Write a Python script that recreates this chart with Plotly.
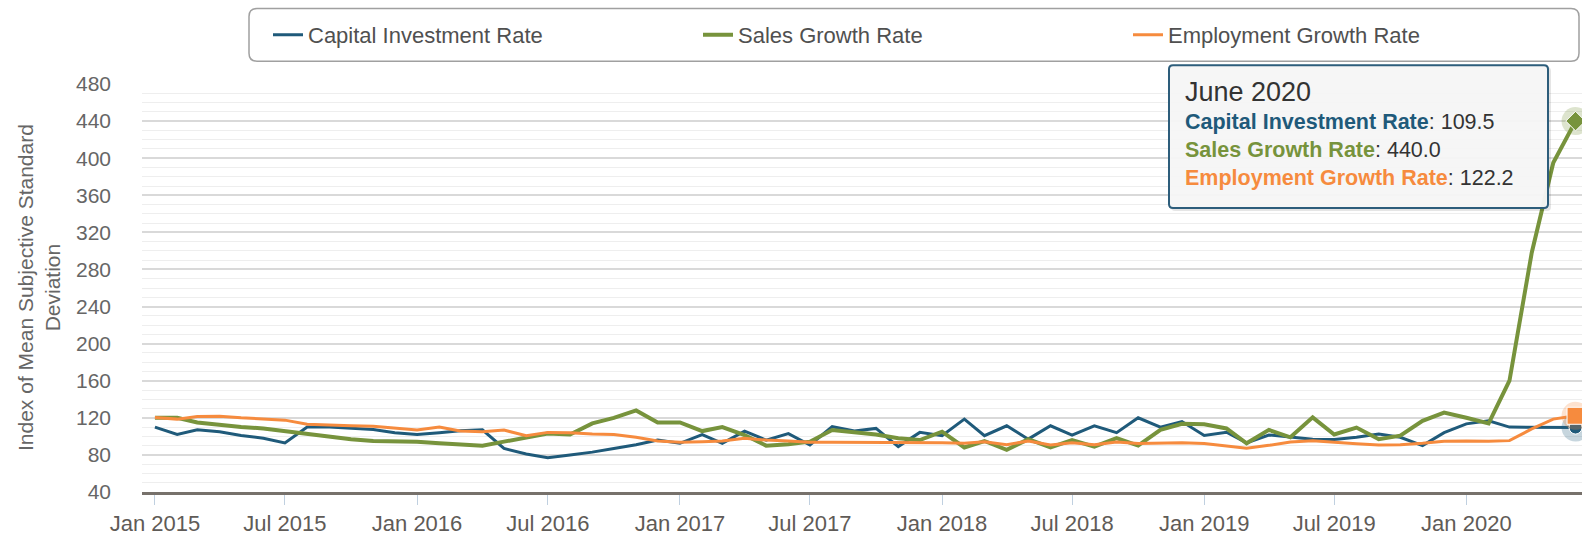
import pandas as pd
import plotly.graph_objects as go

# ---------------- data ----------------
months = [d.strftime("%Y-%m-%d") for d in pd.date_range("2015-01-01", "2020-06-01", freq="MS")]

capital_investment = [
    110, 102, 107, 105, 101, 98, 93, 110, 110, 109, 107.5, 104,
    102, 104, 106, 107, 87, 81, 77, 80, 83, 87, 91, 96,
    92.5, 102, 92.5, 105.7, 96, 103, 90.7, 110.4, 105.7, 108.6, 89, 104.3,
    100.7, 118.6, 100.7, 111.4, 97, 111.4, 101.4, 111.4, 104, 120, 110, 116,
    101, 104.5, 93, 101.5, 99, 97, 96.5, 99, 102.5, 99, 90, 104,
    113.5, 116.8, 110, 110, 110, 109.5,
]
sales_growth = [
    120, 120, 115, 112, 110, 108.6, 105.7, 102, 99.6, 97, 95, 95,
    94.3, 92.5, 91.8, 90, 94.3, 98.6, 103, 102, 114, 120, 128, 115,
    115, 105.7, 110, 101.4, 90, 91.4, 94.3, 106.8, 104, 102, 98, 96,
    105, 88, 95, 85.4, 97, 88, 96, 89, 98, 90, 107, 113.5,
    113, 108.5, 92.5, 107, 99, 120.5, 102, 109.5, 97, 100.7, 116.8, 125.7,
    120, 114, 160, 298, 395, 440.0,
]
employment_growth = [
    120.4, 118.6, 121.4, 121.8, 120, 119, 117.5, 113, 112, 111.4, 111, 108.6,
    106.8, 110, 105.7, 105, 106.8, 100.7, 104.3, 104, 102.5, 102, 99, 95,
    93.6, 94.3, 95, 98, 96, 95, 93.6, 93.6, 93.6, 93.6, 93.2, 93.2,
    93.2, 92.5, 94.3, 91, 95, 90.7, 93.2, 91, 94, 92.3, 93, 93,
    92.3, 90, 87.3, 90.3, 94, 95.4, 93.6, 92, 90.7, 91, 92.5, 94.6,
    95, 94.6, 95.4, 108, 118.6, 122.2,
]

series_names = ["Capital Investment Rate", "Sales Growth Rate", "Employment Growth Rate"]
series_values = [capital_investment, sales_growth, employment_growth]
series_colors = ["#1f5a7a", "#77933c", "#f68b3e"]
series_widths = [3, 4, 3]
hover_symbols = ["circle", "diamond", "square"]
hover_sizes = [13, 15, 17]

tooltip_title = "June 2020"
y_title = "Index of Mean Subjective Standard<br>Deviation"

# ---------------- layout geometry (pixels) ----------------
W, H = 1582, 536
L, R, T, B = 142, 1582, 84, 495
PW, PH = R - L, B - T


def px(x):
    return (x - L) / PW


def py(y):
    return (B - y) / PH


def rounded_rect(x0, y0, x1, y1, r):
    pts = [
        f"M{px(x0 + r)},{py(y0)}", f"L{px(x1 - r)},{py(y0)}", f"Q{px(x1)},{py(y0)} {px(x1)},{py(y0 + r)}",
        f"L{px(x1)},{py(y1 - r)}", f"Q{px(x1)},{py(y1)} {px(x1 - r)},{py(y1)}",
        f"L{px(x0 + r)},{py(y1)}", f"Q{px(x0)},{py(y1)} {px(x0)},{py(y1 - r)}",
        f"L{px(x0)},{py(y0 + r)}", f"Q{px(x0)},{py(y0)} {px(x0 + r)},{py(y0)}", "Z",
    ]
    return " ".join(pts)


FONT = "Arial, 'Liberation Sans', sans-serif"

fig = go.Figure()

for name, vals, col, lw in zip(series_names, series_values, series_colors, series_widths):
    fig.add_trace(go.Scatter(
        x=months, y=vals, mode="lines", name=name,
        line=dict(color=col, width=lw), hoverinfo="skip",
    ))

# hover-state markers on the last point
for name, vals, col, sym, sz in zip(series_names, series_values, series_colors, hover_symbols, hover_sizes):
    fig.add_trace(go.Scatter(
        x=[months[-1]], y=[vals[-1]], mode="markers", showlegend=False,
        marker=dict(size=28, color=col, opacity=0.25, line=dict(width=0)),
        cliponaxis=False, hoverinfo="skip",
    ))
    fig.add_trace(go.Scatter(
        x=[months[-1]], y=[vals[-1]], mode="markers", showlegend=False,
        marker=dict(size=sz, color=col, symbol=sym, line=dict(width=1, color="white")),
        cliponaxis=False, hoverinfo="skip",
    ))

shapes = [
    # legend box
    dict(type="path", xref="paper", yref="paper", path=rounded_rect(249, 8, 1579, 61, 8),
         line=dict(color="#a0a0a0", width=1.5), fillcolor="white", layer="below"),
    # tooltip shadow
    dict(type="path", xref="paper", yref="paper", path=rounded_rect(1171, 67, 1551, 212, 4),
         line=dict(width=0), fillcolor="rgba(0,0,0,0.10)", layer="above"),
    # tooltip box
    dict(type="path", xref="paper", yref="paper", path=rounded_rect(1169, 65, 1548, 209, 4),
         line=dict(color="#2d5d7b", width=2), fillcolor="rgba(246,246,246,0.97)", layer="above"),
]

annotations = [
    dict(text=y_title, x=px(39), y=0.5, xref="paper", yref="paper", textangle=-90,
         showarrow=False, xanchor="center", yanchor="middle", align="center",
         font=dict(family=FONT, size=21, color="#666666")),
    dict(text=tooltip_title, x=px(1183), y=py(92), xref="paper", yref="paper",
         showarrow=False, xanchor="left", yanchor="middle", align="left",
         font=dict(family=FONT, size=27, color="#333333")),
]
row_y = [122, 150, 179]
for name, vals, col, yy in zip(series_names, series_values, series_colors, row_y):
    annotations.append(dict(
        text=f"<b><span style='color:{col}'>{name}</span></b>: {vals[-1]:.1f}",
        x=px(1183), y=py(yy), xref="paper", yref="paper", showarrow=False,
        xanchor="left", yanchor="middle", align="left",
        font=dict(family=FONT, size=21.5, color="#333333"),
    ))

fig.update_layout(
    width=W, height=H,
    margin=dict(l=L, r=W - R, t=T, b=H - B, pad=0),
    paper_bgcolor="white", plot_bgcolor="white",
    font=dict(family=FONT, color="#666666"),
    showlegend=True,
    legend=dict(
        orientation="h", x=px(268), xanchor="left", y=py(34.5), yanchor="middle",
        bgcolor="rgba(0,0,0,0)", borderwidth=0,
        font=dict(family=FONT, size=22, color="#505050"),
        entrywidth=385, entrywidthmode="pixels", itemwidth=30,
    ),
    hovermode=False,
    shapes=shapes,
    annotations=annotations,
    xaxis=dict(
        type="date", range=["2014-12-14", "2020-06-10"],
        tick0="2015-01-01", dtick="M6", tickformat="%b %Y",
        ticks="outside", ticklen=10, tickwidth=1, tickcolor="#c0d0e0",
        showline=True, linecolor="#77716b", linewidth=3,
        showgrid=False, zeroline=False,
        tickfont=dict(family=FONT, size=22, color="#5f5b57"),
    ),
    yaxis=dict(
        range=[40, 480], tick0=40, dtick=40,
        showgrid=True, gridcolor="#d9d9d9", gridwidth=1.5,
        minor=dict(dtick=10, showgrid=True, gridcolor="#eeeeee", gridwidth=1.2),
        showline=False, zeroline=False, ticks="",
        ticklabelstandoff=30,
        tickfont=dict(family=FONT, size=21, color="#666666"),
    ),
)

fig.write_html(
    "out.html",
    config={"displayModeBar": False},
    post_script="document.body.style.margin='0px';document.body.style.overflow='hidden';",
)
